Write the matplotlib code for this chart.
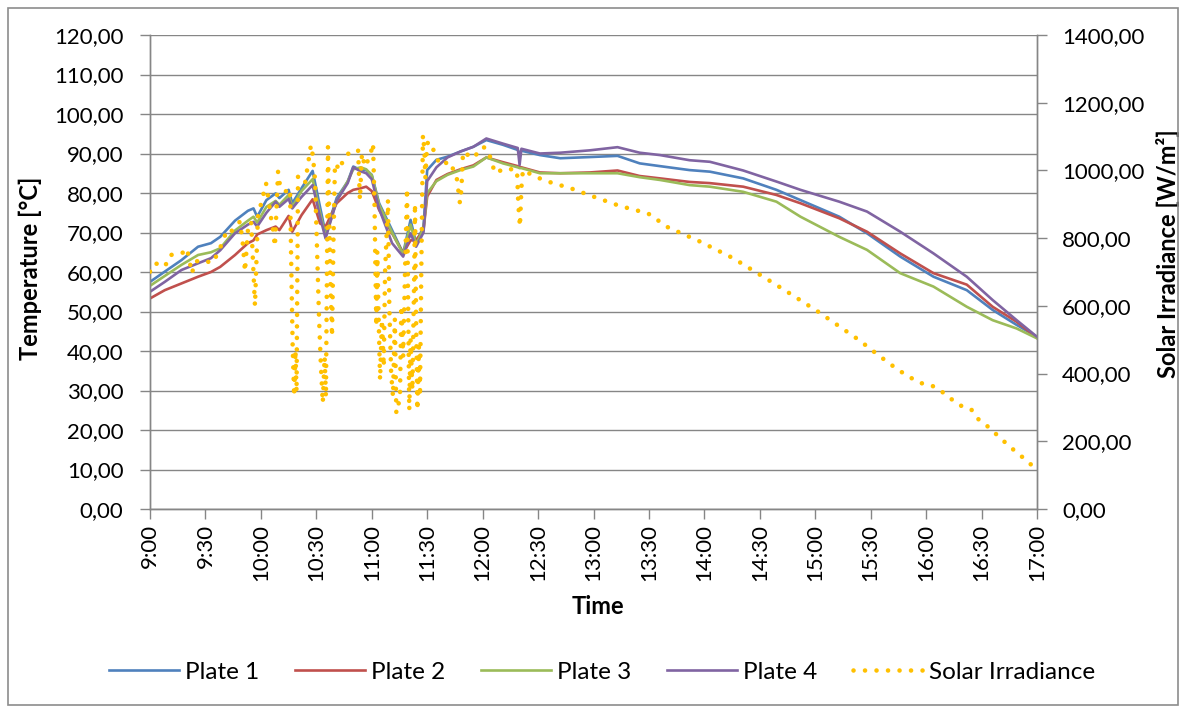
import matplotlib
matplotlib.use("Agg")
import matplotlib.pyplot as plt
from matplotlib.ticker import FuncFormatter, MultipleLocator
from matplotlib.patches import Rectangle

# ---------------- data (minutes after 9:00) ----------------
temp_minutes = [0, 8, 17, 26, 33, 38, 46, 53, 56, 58, 63, 68, 70, 75, 77, 82, 88, 92, 95,
                101, 107, 110, 114, 117, 120, 124, 131, 137, 141, 144, 148, 150, 155, 161,
                168, 175, 182, 191, 199, 200, 201, 211, 222, 238, 253, 265, 276, 292, 303,
                321, 339, 352, 373, 388, 406, 424, 442, 456, 469, 480]
plate1 = [57.5, 60.1, 63.0, 66.4, 67.3, 68.9, 73.0, 75.5, 76.1, 74.0, 78.2, 79.9, 78.7, 80.8, 77.4,
          81.2, 85.6, 76.5, 69.8, 78.7, 82.9, 86.7, 85.8, 85.8, 84.6, 77.4, 70.6, 64.7, 73.2, 67.3,
          71.5, 85.8, 88.4, 89.2, 90.5, 91.7, 93.4, 92.2, 90.9, 90.0, 90.7, 89.6, 88.8, 89.1, 89.4,
          87.5, 86.8, 85.8, 85.4, 83.7, 80.8, 78.2, 74.0, 69.8, 63.9, 58.8, 55.4, 50.4, 46.6, 43.6]
plate2 = [53.3, 55.4, 57.1, 58.8, 60.0, 61.3, 64.3, 67.3, 68.0, 69.5, 70.6, 71.5, 70.6, 74.2, 70.2,
          74.4, 78.4, 72.3, 71.5, 77.4, 80.0, 80.8, 81.2, 81.6, 80.5, 75.7, 69.8, 64.8, 68.0, 68.1,
          70.6, 79.1, 83.3, 84.8, 86.0, 87.0, 89.0, 87.8, 86.8, 86.6, 86.5, 85.2, 85.0, 85.2, 85.7,
          84.3, 83.7, 82.8, 82.5, 81.6, 79.5, 77.4, 73.6, 70.2, 64.7, 59.7, 56.8, 51.2, 47.4, 43.3]
plate3 = [56.5, 59.0, 61.8, 64.3, 65.0, 66.0, 70.5, 73.0, 74.0, 72.5, 76.5, 78.0, 77.0, 79.5, 76.5,
          80.5, 83.5, 75.0, 69.0, 78.0, 83.0, 86.0, 86.5, 86.0, 84.5, 77.0, 70.0, 64.5, 72.0, 67.0,
          71.0, 80.0, 83.0, 84.6, 85.8, 86.7, 89.0, 87.5, 86.5, 86.3, 86.3, 85.0, 85.0, 85.0, 85.0,
          84.0, 83.3, 82.0, 81.6, 80.3, 77.8, 74.0, 68.9, 65.6, 59.7, 56.3, 51.2, 47.8, 45.7, 43.2]
plate4 = [55.0, 57.5, 60.5, 62.2, 63.5, 65.5, 69.8, 72.0, 72.7, 71.5, 75.0, 77.8, 76.5, 78.5, 76.1,
          79.0, 82.0, 74.0, 68.5, 78.0, 82.5, 86.5, 85.5, 85.0, 83.5, 76.0, 67.3, 63.9, 69.8, 66.4,
          70.0, 83.0, 86.5, 89.0, 90.5, 91.7, 93.8, 92.5, 91.4, 87.1, 91.2, 90.0, 90.2, 90.8, 91.6,
          90.2, 89.6, 88.3, 87.9, 85.7, 82.9, 80.8, 77.8, 75.3, 70.2, 64.7, 58.8, 52.9, 47.8, 43.6]

irr_minutes = [0, 2.7, 8.1, 10.8, 17.3, 20.0, 22.7, 24.4, 29.2, 33.5, 36.8, 41.7, 43.8, 48.7,
               50.3, 51.4, 53.0, 54.7, 55.5, 56.8, 57.5, 58.4, 62.8, 63.9, 65.5, 66.6, 67.6,
               69.3, 70.3, 73.1, 75.8, 76.5, 77.2, 78.0, 78.7, 79.3, 80.1, 83.9, 87.1, 88.2,
               89.3, 90.5, 91.5, 92.5, 93.5, 94.5, 95.2, 96.3, 97.5, 98.5, 99.3, 100.1, 102.8,
               104.4, 108.2, 112.6, 113.6, 114.7, 116.3, 119.0, 120.7, 121.5, 122.0, 122.5,
               123.0, 123.5, 124.5, 125.5, 126.5, 127.2, 128.8, 129.5, 130.5, 131.5, 132.5,
               133.3, 134.2, 135.3, 136.0, 137.0, 138.0, 139.1, 139.7, 140.3, 141.0, 142.0,
               143.0, 143.4, 144.0, 144.7, 145.5, 146.1, 146.8, 147.7, 148.5, 149.0, 150.0,
               151.5, 154.2, 156.9, 162.3, 166.0, 167.7, 168.5, 169.4, 174.8, 180.2, 182.9,
               186.7, 192.1, 198.6, 199.3, 200.2, 201.0, 201.8, 208.3, 215.4, 227.8, 240.3,
               254.3, 269.5, 280.3, 297.6, 315.5, 333.3, 344.7, 361.5, 371.8, 383.7, 394.0,
               404.8, 416.1, 422.6, 427.5, 437.8, 444.3, 448.1, 453.5, 458.3, 463.7, 469.2,
               474.0, 480]
irradiance = [701, 726, 716, 750, 755, 770, 696, 731, 735, 726, 755, 824, 819, 849,
              780, 701, 824, 849, 760, 600, 720, 864, 962, 922, 860, 824, 775,
              996, 957, 937, 947, 700, 480, 332, 470, 345, 982, 962, 1075, 1041,
              972, 750, 560, 420, 313, 450, 330, 1070, 700, 509, 800, 1021, 1001,
              1031, 1055, 1060, 913, 1050, 1011, 1041, 1080, 900, 700, 539,
              760, 620, 381, 560, 420, 700, 913, 600, 400, 332, 560,
              283, 297, 342, 600, 450, 700, 947, 600, 292, 500, 350,
              700, 902, 560, 292, 480, 332, 700, 1105, 1060, 978, 1080,
              1085, 1050, 1016, 1026, 978, 904, 942, 1055, 1036, 1070, 1060,
              992, 1006, 1001, 900, 834, 950, 1001, 982, 967, 947, 922,
              895, 873, 832, 790, 741, 681, 642, 583, 544, 499, 455,
              411, 373, 366, 351, 307, 295, 266, 243, 219, 192, 166,
              145, 115]

tick_minutes = list(range(0, 481, 30))
tick_labels = ["9:00", "9:30", "10:00", "10:30", "11:00", "11:30", "12:00", "12:30",
               "13:00", "13:30", "14:00", "14:30", "15:00", "15:30", "16:00", "16:30", "17:00"]

series_names = ["Plate 1", "Plate 2", "Plate 3", "Plate 4", "Solar Irradiance"]
colors = ["#4F81BD", "#C0504D", "#9BBB59", "#8064A2", "#FFC000"]

# ---------------- figure ----------------
plt.rcParams['font.family'] = ['Lato', 'DejaVu Sans']
W, H = 1181, 708
fig = plt.figure(figsize=(W / 100, H / 100), dpi=100)
fig.patches.append(Rectangle((8 / W, 3 / H), (1178 - 8) / W, (700 - 3) / H,
                             transform=fig.transFigure, fill=False,
                             edgecolor="#8C8C8C", linewidth=1.2))

x0, x1, y0, y1 = 150, 1037, 509, 35
ax = fig.add_axes([x0 / W, 1 - y0 / H, (x1 - x0) / W, (y0 - y1) / H])
ax2 = ax.twinx()

grid_c = "#868686"
fmt = FuncFormatter(lambda v, p: f"{v:.2f}".replace(".", ","))

handles = []
for vals, name, c in zip([plate1, plate2, plate3, plate4], series_names[:4], colors[:4]):
    h, = ax.plot(temp_minutes, vals, color=c, lw=1.9, label=name, zorder=3)
    handles.append(h)

h_irr, = ax2.plot(irr_minutes, irradiance, color=colors[4], lw=3.3,
                  linestyle=(0, (0.01, 2.5)), dash_capstyle="round",
                  label=series_names[4], zorder=4)
handles.append(h_irr)

ax.set_xlim(0, 480)
ax.set_ylim(0, 120)
ax2.set_ylim(0, 1400)
ax.yaxis.set_major_locator(MultipleLocator(10))
ax2.yaxis.set_major_locator(MultipleLocator(200))
ax.yaxis.set_major_formatter(fmt)
ax2.yaxis.set_major_formatter(fmt)
ax.set_xticks(tick_minutes)
ax.set_xticklabels(tick_labels, rotation=90)

ax.grid(axis="y", color=grid_c, lw=1.0)
ax.set_axisbelow(True)
for a in (ax, ax2):
    for s in a.spines.values():
        s.set_color(grid_c)
        s.set_linewidth(1.0)
    a.spines["top"].set_visible(False)
    a.tick_params(colors=grid_c, labelcolor="black", labelsize=16, length=7, width=1.0)

ax.tick_params(axis="y", pad=12)
ax2.tick_params(axis="y", pad=11)
ax.tick_params(axis="x", pad=4)

ax.set_ylabel("Temperature [°C]", fontsize=17, fontweight="bold")
ax2.set_ylabel("Solar Irradiance [W/m²]", fontsize=17, fontweight="bold")
ax.set_xlabel("Time", fontsize=17, fontweight="bold")
pw, ph = x1 - x0, y0 - y1
ax.yaxis.set_label_coords((30 - x0) / pw, (509 - 268) / ph)
ax.yaxis.label.set_va("center")
ax2.yaxis.set_label_coords((1168 - x0) / pw, (509 - 254) / ph)
ax2.yaxis.label.set_va("center")
ax.xaxis.set_label_coords((598 - x0) / pw, -(606 - 509) / ph)
ax.xaxis.label.set_va("center")

fig.legend(handles=handles, labels=series_names, loc="center",
           bbox_to_anchor=(602 / W, 1 - 672 / H), ncol=5, frameon=False,
           fontsize=17.5, handlelength=2.9, handletextpad=0.25, columnspacing=1.45)

fig.savefig("out.png", dpi=100)
